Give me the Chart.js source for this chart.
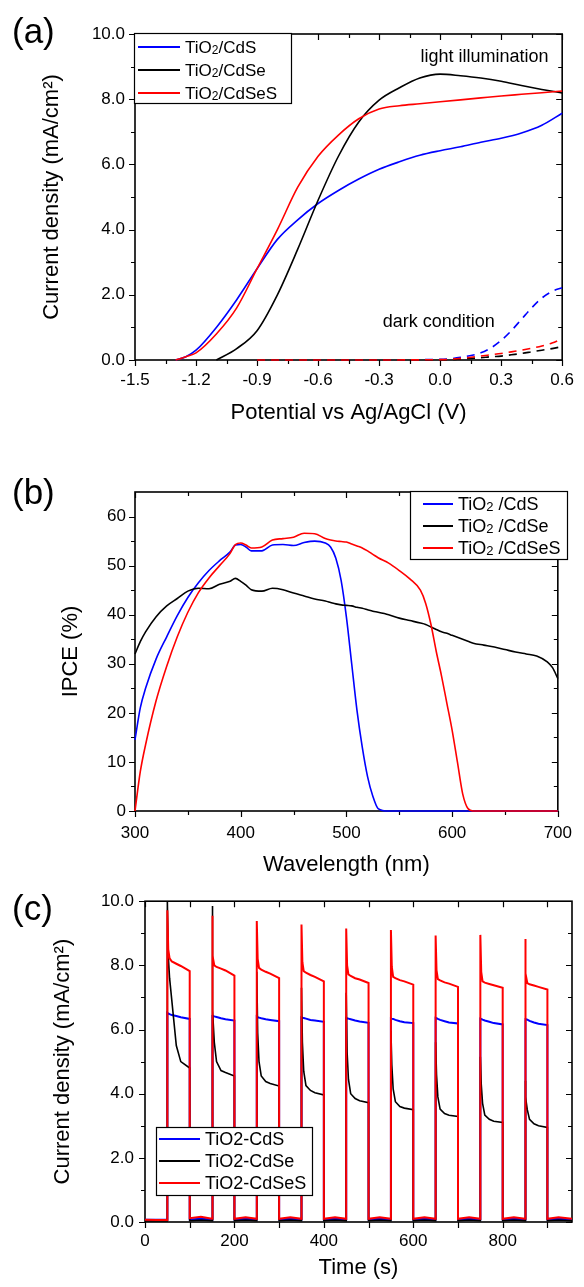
<!DOCTYPE html>
<html>
<head>
<meta charset="utf-8">
<script src="https://cdn.jsdelivr.net/npm/chart.js@4.4.1/dist/chart.umd.min.js"></script>
<style>
  html, body { margin: 0; padding: 0; background: #fff; }
  body { width: 584px; height: 1287px; position: relative; overflow: hidden; font-family: "Liberation Sans", Arial, sans-serif; }
  canvas { position: absolute; left: 0; }
  .tag { position: absolute; left: 12px; font-size: 35px; line-height: 35px; color: #000; }
</style>
</head>
<body>
<canvas id="chartA" width="584" height="440" style="top:0"></canvas>
<canvas id="chartB" width="584" height="440" style="top:440px"></canvas>
<canvas id="chartC" width="584" height="407" style="top:880px"></canvas>
<div class="tag" style="top:13px">(a)</div>
<div class="tag" style="top:474px">(b)</div>
<div class="tag" style="top:890px">(c)</div>
<script>
// ---- (a) photocurrent vs potential ----
const potential = [-1.3, -1.25, -1.2, -1.1, -1.0, -0.9, -0.8, -0.7, -0.6, -0.5, -0.4, -0.3, -0.2, -0.1, 0.0, 0.1, 0.2, 0.3, 0.4, 0.5, 0.6];
const lightCdS   = [0, 0.1, 0.3, 1.0, 1.85, 2.8, 3.7, 4.3, 4.8, 5.2, 5.55, 5.85, 6.08, 6.28, 6.42, 6.54, 6.68, 6.8, 6.96, 7.2, 7.57];
const lightCdSeS = [0, 0.1, 0.22, 0.8, 1.6, 2.8, 4.0, 5.3, 6.25, 6.9, 7.4, 7.7, 7.8, 7.86, 7.92, 7.98, 8.04, 8.1, 8.15, 8.2, 8.25];
const potentialSe = [-1.1, -1.0, -0.9, -0.8, -0.7, -0.6, -0.5, -0.4, -0.3, -0.2, -0.1, 0.0, 0.1, 0.2, 0.3, 0.4, 0.5, 0.6];
const lightCdSe  = [0, 0.35, 0.9, 2.0, 3.4, 4.9, 6.25, 7.3, 7.97, 8.35, 8.65, 8.77, 8.72, 8.65, 8.55, 8.42, 8.3, 8.19];
const darkPotential = [-0.9, -0.5, 0.0, 0.1, 0.2, 0.25, 0.3, 0.35, 0.4, 0.45, 0.5, 0.55, 0.6];
const darkCdS   = [0, 0, 0.02, 0.08, 0.22, 0.37, 0.6, 0.9, 1.25, 1.6, 1.9, 2.1, 2.22];
const darkCdSe  = [0, 0, 0, 0.03, 0.07, 0.1, 0.12, 0.16, 0.2, 0.25, 0.3, 0.35, 0.41];
const darkCdSeS = [0, 0, 0.01, 0.05, 0.12, 0.16, 0.2, 0.25, 0.3, 0.36, 0.43, 0.52, 0.65];
const potentialTicks = [-1.5, -1.2, -0.9, -0.6, -0.3, 0.0, 0.3, 0.6];
const potentialMinor = [-1.35, -1.05, -0.75, -0.45, -0.15, 0.15, 0.45];
const currentTicks = [0, 2, 4, 6, 8, 10];
const currentMinor = [1, 3, 5, 7, 9];
const namesA = ['TiO2/CdS', 'TiO2/CdSe', 'TiO2/CdSeS'];

// ---- (b) IPCE ----
const wavelength = [300, 305, 310, 320, 330, 340, 350, 360, 370, 380, 390, 395, 400, 405, 410, 420, 430, 440, 450, 460, 470, 480,
  485, 490, 495, 500, 505, 510, 515, 520, 525, 530, 540, 550, 560, 570, 575, 580, 585, 590, 595, 600, 605, 610, 615, 620,
  630, 640, 650, 660, 670, 680, 690, 695, 700];
const ipceCdS = [14.5, 21, 25, 31, 35.5, 39.8, 43.5, 46.5, 49, 51, 52.8, 54.2, 54.3, 53.8, 53.0, 53.0, 54.2, 54.3, 54.1, 54.7, 55.0, 54.6,
  53.8, 51.5, 47, 39.5, 30, 20.5, 13, 7, 3, 0.5, 0, 0, 0, 0, 0, 0, 0, 0, 0, 0, 0, 0, 0, 0,
  0, 0, 0, 0, 0, 0, 0, 0, 0];
const ipceCdSe = [32, 34.5, 36.5, 39.6, 41.8, 43.3, 44.8, 45.4, 45.3, 46.2, 46.8, 47.4, 46.8, 46.0, 45.1, 44.8, 45.4, 45.1, 44.4, 43.8, 43.2, 42.8,
  42.5, 42.2, 42.0, 41.9, 41.8, 41.5, 41.3, 41.0, 40.7, 40.5, 40.0, 39.3, 38.8, 38.3, 38.0, 37.5, 37.0, 36.5, 36.2, 35.8, 35.4, 35.0, 34.6, 34.2,
  33.8, 33.4, 32.9, 32.4, 32.0, 31.6, 30.4, 29.2, 27.0];
const ipceCdSeS = [0, 8, 13.5, 22.5, 29.5, 35.5, 40.5, 44.5, 47.5, 50, 52.5, 54.3, 54.6, 54.2, 53.6, 53.8, 55.2, 55.5, 55.8, 56.6, 56.5, 55.5,
  55.2, 55.0, 54.9, 54.8, 54.4, 54.0, 53.6, 53.0, 52.3, 51.6, 50.5, 49.0, 47.3, 45.0, 42.3, 38.0, 32.5, 27.5, 22, 16.5, 10, 3.5, 0.5, 0,
  0, 0, 0, 0, 0, 0, 0, 0, 0];
const wavelengthTicks = [300, 400, 500, 600, 700];
const wavelengthMinor = [350, 450, 550, 650];
const ipceTicks = [0, 10, 20, 30, 40, 50, 60];
const ipceMinor = [5, 15, 25, 35, 45, 55];
const namesB = ['TiO2 /CdS', 'TiO2 /CdSe', 'TiO2 /CdSeS'];

// ---- (c) chopped light transients ----
const time = [0, 25,
  50, 50, 52, 55, 60, 70, 80, 100, 100, 125,
  150, 150, 152, 155, 160, 170, 180, 200, 200, 225,
  250, 250, 252, 255, 260, 270, 280, 300, 300, 325,
  350, 350, 352, 355, 360, 370, 380, 400, 400, 425,
  450, 450, 452, 455, 460, 470, 480, 500, 500, 525,
  550, 550, 552, 555, 560, 570, 580, 600, 600, 625,
  650, 650, 652, 655, 660, 670, 680, 700, 700, 725,
  750, 750, 752, 755, 760, 770, 780, 800, 800, 825,
  850, 850, 852, 855, 860, 870, 880, 900, 900, 925,
  955];
const chopCdS = [0.07, 0.07,
  0.07, 6.52, 6.5, 6.48, 6.45, 6.42, 6.38, 6.33, 0.08, 0.1,
  0.08, 6.45, 6.43, 6.41, 6.39, 6.35, 6.32, 6.28, 0.08, 0.1,
  0.08, 6.4, 6.38, 6.37, 6.35, 6.32, 6.3, 6.26, 0.08, 0.1,
  0.08, 6.38, 6.37, 6.36, 6.34, 6.3, 6.28, 6.24, 0.08, 0.1,
  0.08, 6.36, 6.35, 6.34, 6.32, 6.28, 6.25, 6.21, 0.08, 0.1,
  0.08, 6.35, 6.34, 6.33, 6.3, 6.26, 6.23, 6.2, 0.08, 0.1,
  0.08, 6.36, 6.35, 6.33, 6.3, 6.26, 6.22, 6.19, 0.08, 0.1,
  0.08, 6.34, 6.33, 6.31, 6.28, 6.24, 6.2, 6.16, 0.08, 0.1,
  0.08, 6.35, 6.33, 6.31, 6.27, 6.22, 6.18, 6.14, 0.08, 0.1,
  0.08];
const chopCdSe = [0.03, 0.03,
  0.03, 10.0, 8.3, 7.6, 6.9, 5.5, 5.0, 4.8, 0.04, 0.06,
  0.04, 9.85, 6.6, 5.6, 5.0, 4.72, 4.66, 4.55, 0.04, 0.06,
  0.04, 7.8, 5.9, 5.0, 4.55, 4.38, 4.32, 4.24, 0.04, 0.06,
  0.04, 7.3, 5.6, 4.7, 4.25, 4.1, 4.03, 3.96, 0.04, 0.06,
  0.04, 7.15, 5.3, 4.45, 4.0, 3.85, 3.78, 3.72, 0.04, 0.06,
  0.04, 5.95, 4.9, 4.15, 3.75, 3.6, 3.55, 3.5, 0.04, 0.06,
  0.04, 5.6, 4.6, 3.9, 3.52, 3.38, 3.33, 3.29, 0.04, 0.06,
  0.04, 5.15, 4.3, 3.7, 3.33, 3.2, 3.14, 3.1, 0.04, 0.06,
  0.04, 4.4, 3.9, 3.5, 3.2, 3.06, 3.0, 2.95, 0.04, 0.06,
  0.04];
const chopCdSeS = [0.07, 0.06,
  0.06, 9.72, 8.5, 8.22, 8.12, 8.05, 7.98, 7.82, 0.12, 0.16,
  0.10, 9.55, 8.3, 8.0, 7.95, 7.9, 7.84, 7.68, 0.10, 0.15,
  0.10, 9.38, 8.2, 7.92, 7.87, 7.8, 7.74, 7.6, 0.10, 0.15,
  0.10, 9.27, 8.1, 7.82, 7.77, 7.7, 7.64, 7.5, 0.10, 0.15,
  0.10, 9.15, 8.0, 7.72, 7.67, 7.6, 7.56, 7.45, 0.10, 0.15,
  0.10, 9.1, 7.95, 7.64, 7.6, 7.54, 7.5, 7.4, 0.10, 0.15,
  0.10, 8.93, 7.85, 7.57, 7.53, 7.47, 7.43, 7.33, 0.10, 0.15,
  0.10, 8.95, 7.8, 7.5, 7.46, 7.42, 7.38, 7.3, 0.10, 0.15,
  0.10, 8.82, 7.75, 7.45, 7.41, 7.37, 7.33, 7.25, 0.10, 0.15,
  0.10];
const timeTicks = [0, 200, 400, 600, 800];
const timeMinor = [100, 300, 500, 700, 900];
const namesC = ['TiO2-CdS', 'TiO2-CdSe', 'TiO2-CdSeS'];

const BLUE = '#0000ff', BLACK = '#000000', RED = '#ff0000';
const FONT = '"Liberation Sans", Arial, sans-serif';
Chart.defaults.font.family = FONT;
Chart.defaults.color = '#000';

const pts = (xs, ys) => xs.map((x, i) => ({ x: x, y: ys[i] }));

// frame with outward ticks bottom/left, inward ticks top/right
const framePlugin = {
  id: 'frame',
  beforeDatasetsDraw(chart, args, opts) {
    const { ctx, chartArea: a } = chart;
    const xs = chart.scales.x, ys = chart.scales.y;
    ctx.save();
    ctx.strokeStyle = '#000';
    ctx.lineWidth = 1.2;
    ctx.beginPath();
    const xMark = (vals, len) => vals.forEach(v => {
      const p = Math.round(xs.getPixelForValue(v)) + 0.5;
      ctx.moveTo(p, a.bottom); ctx.lineTo(p, a.bottom + len);
      ctx.moveTo(p, a.top); ctx.lineTo(p, a.top + len);
    });
    const yMark = (vals, len) => vals.forEach(v => {
      const p = Math.round(ys.getPixelForValue(v)) + 0.5;
      ctx.moveTo(a.left, p); ctx.lineTo(a.left - len, p);
      ctx.moveTo(a.right, p); ctx.lineTo(a.right - len, p);
    });
    xMark(opts.xMajor, 6); xMark(opts.xMinor, 4);
    yMark(opts.yMajor, 6); yMark(opts.yMinor, 4);
    ctx.stroke();
    ctx.lineWidth = 1.6;
    ctx.strokeRect(a.left, a.top, a.right - a.left, a.bottom - a.top);
    ctx.restore();
  }
};

// boxed legend drawn inside the plot area
const boxLegendPlugin = {
  id: 'boxLegend',
  afterDatasetsDraw(chart, args, opts) {
    const { ctx } = chart;
    const [bx, by, bw, bh] = opts.box;
    ctx.save();
    ctx.fillStyle = '#fff';
    ctx.fillRect(bx, by, bw, bh);
    ctx.strokeStyle = '#000';
    ctx.lineWidth = 1.2;
    ctx.strokeRect(bx + 0.5, by + 0.5, bw, bh);
    chart.data.datasets.forEach((ds, i) => {
      if (ds.hideLegend) return;
      const ry = opts.rows[i];
      ctx.strokeStyle = ds.borderColor;
      ctx.lineWidth = 2;
      ctx.setLineDash([]);
      ctx.beginPath();
      ctx.moveTo(opts.line[0], ry); ctx.lineTo(opts.line[1], ry);
      ctx.stroke();
      ctx.fillStyle = '#000';
      ctx.textBaseline = 'alphabetic';
      const base = ry + opts.size * 0.36;
      let x = opts.textX;
      const label = ds.label;
      const parts = opts.subscript ? [label.slice(0, 3), label.slice(3, 4), label.slice(4)] : [label];
      parts.forEach((p, k) => {
        const small = opts.subscript && k === 1;
        ctx.font = (small ? Math.round(opts.size * 0.72) : opts.size) + 'px ' + FONT;
        ctx.fillText(p, x, base + (small ? 1 : 0));
        x += ctx.measureText(p).width;
      });
    });
    ctx.restore();
  }
};

// free text notes placed in data coordinates
const notesPlugin = {
  id: 'notes',
  afterDatasetsDraw(chart, args, opts) {
    if (!opts.items) return;
    const { ctx } = chart;
    ctx.save();
    ctx.font = opts.size + 'px ' + FONT;
    ctx.fillStyle = '#000';
    ctx.textAlign = 'center';
    ctx.textBaseline = 'middle';
    opts.items.forEach(n => {
      ctx.fillText(n.text, chart.scales.x.getPixelForValue(n.x), chart.scales.y.getPixelForValue(n.y));
    });
    ctx.restore();
  }
};

function axis(o) {
  return {
    type: 'linear', min: o.min, max: o.max,
    afterBuildTicks: s => { s.ticks = o.ticks.map(v => ({ value: v })); },
    afterFit: s => { if (o.width) s.width = o.width; if (o.height) s.height = o.height; },
    grid: { display: false, drawTicks: false },
    border: { display: false },
    ticks: { padding: o.pad, color: '#000', font: { size: 17 }, autoSkip: false, maxRotation: 0,
      callback: v => v.toFixed(o.dec) },
    title: { display: true, text: o.title, color: '#000', font: { size: 22 }, padding: o.titlePad }
  };
}

// order: lower number is drawn on top (red over black over blue)
function line(label, color, data, extra) {
  const order = color === RED ? 0 : color === BLACK ? 1 : 2;
  return Object.assign({ label: label, data: data, borderColor: color, backgroundColor: color,
    borderWidth: 1.6, pointRadius: 0, fill: false, order: order }, extra || {});
}

function makeChart(id, cfg) {
  return new Chart(document.getElementById(id), {
    type: 'line',
    data: { datasets: cfg.datasets },
    options: {
      responsive: false, animation: false,
      layout: { padding: cfg.padding },
      scales: { x: cfg.x, y: cfg.y },
      plugins: {
        legend: { display: false }, tooltip: { enabled: false },
        frame: cfg.frame, boxLegend: cfg.legend, notes: cfg.notes || {}
      }
    },
    plugins: [framePlugin, boxLegendPlugin, notesPlugin]
  });
}

const smooth = { cubicInterpolationMode: 'monotone', clip: false };
const dashed = { borderDash: [8, 6], hideLegend: true, cubicInterpolationMode: 'monotone', clip: false };

makeChart('chartA', {
  padding: { top: 34, right: 20, left: 0, bottom: 0 },
  datasets: [
    line(namesA[0], BLUE, pts(potential, lightCdS), smooth),
    line(namesA[1], BLACK, pts(potentialSe, lightCdSe), smooth),
    line(namesA[2], RED, pts(potential, lightCdSeS), smooth),
    line('dark CdS', BLUE, pts(darkPotential, darkCdS), dashed),
    line('dark CdSe', BLACK, pts(darkPotential, darkCdSe), dashed),
    line('dark CdSeS', RED, pts(darkPotential, darkCdSeS), dashed)
  ],
  x: axis({ min: -1.5, max: 0.6, ticks: potentialTicks, dec: 1, pad: 10, height: 80,
    title: 'Potential vs Ag/AgCl (V)', titlePad: { top: 0, bottom: 14 } }),
  y: axis({ min: 0, max: 10, ticks: currentTicks, dec: 1, pad: 10, width: 135,
    title: 'Current density (mA/cm²)', titlePad: { top: 39, bottom: 0 } }),
  frame: { xMajor: potentialTicks, xMinor: potentialMinor, yMajor: currentTicks, yMinor: currentMinor },
  legend: { box: [134, 33, 157, 70], rows: [47, 70, 93], line: [138, 180], textX: 185, size: 17, subscript: true },
  notes: { size: 18, items: [{ text: 'light illumination', x: 0.218, y: 9.29 }, { text: 'dark condition', x: -0.007, y: 1.17 }] }
});

makeChart('chartB', {
  padding: { top: 52, right: 17, left: 0, bottom: 0 },
  datasets: [
    line(namesB[0], BLUE, pts(wavelength, ipceCdS), smooth),
    line(namesB[1], BLACK, pts(wavelength, ipceCdSe), smooth),
    line(namesB[2], RED, pts(wavelength, ipceCdSeS), smooth)
  ],
  x: axis({ min: 300, max: 700, ticks: wavelengthTicks, dec: 0, pad: 12, height: 69,
    title: 'Wavelength (nm)', titlePad: { top: 0, bottom: 2 } }),
  y: axis({ min: 0, max: 65, ticks: ipceTicks, dec: 0, pad: 9, width: 135,
    title: 'IPCE (%)', titlePad: { top: 58, bottom: 0 } }),
  frame: { xMajor: wavelengthTicks, xMinor: wavelengthMinor, yMajor: ipceTicks, yMinor: ipceMinor },
  legend: { box: [410, 51, 157, 68], rows: [64, 86, 108], line: [423, 453], textX: 458, size: 18, subscript: true }
});

makeChart('chartC', {
  padding: { top: 19, right: 12, left: 0, bottom: 0 },
  datasets: [
    line(namesC[0], BLUE, pts(time, chopCdS), { borderWidth: 2 }),
    line(namesC[1], BLACK, pts(time, chopCdSe), { borderWidth: 1.6 }),
    line(namesC[2], RED, pts(time, chopCdSeS), { borderWidth: 2 })
  ],
  x: axis({ min: 0, max: 955, ticks: timeTicks, dec: 0, pad: 9, height: 65,
    title: 'Time (s)', titlePad: { top: 0, bottom: 6 } }),
  y: axis({ min: 0, max: 10, ticks: currentTicks, dec: 1, pad: 11, width: 145,
    title: 'Current density (mA/cm²)', titlePad: { top: 50, bottom: 0 } }),
  frame: { xMajor: timeTicks.concat(timeMinor), xMinor: [], yMajor: currentTicks, yMinor: currentMinor },
  legend: { box: [156, 247, 156, 68], rows: [259, 281, 303], line: [159, 200], textX: 205, size: 18, subscript: false }
});
</script>
</body>
</html>
